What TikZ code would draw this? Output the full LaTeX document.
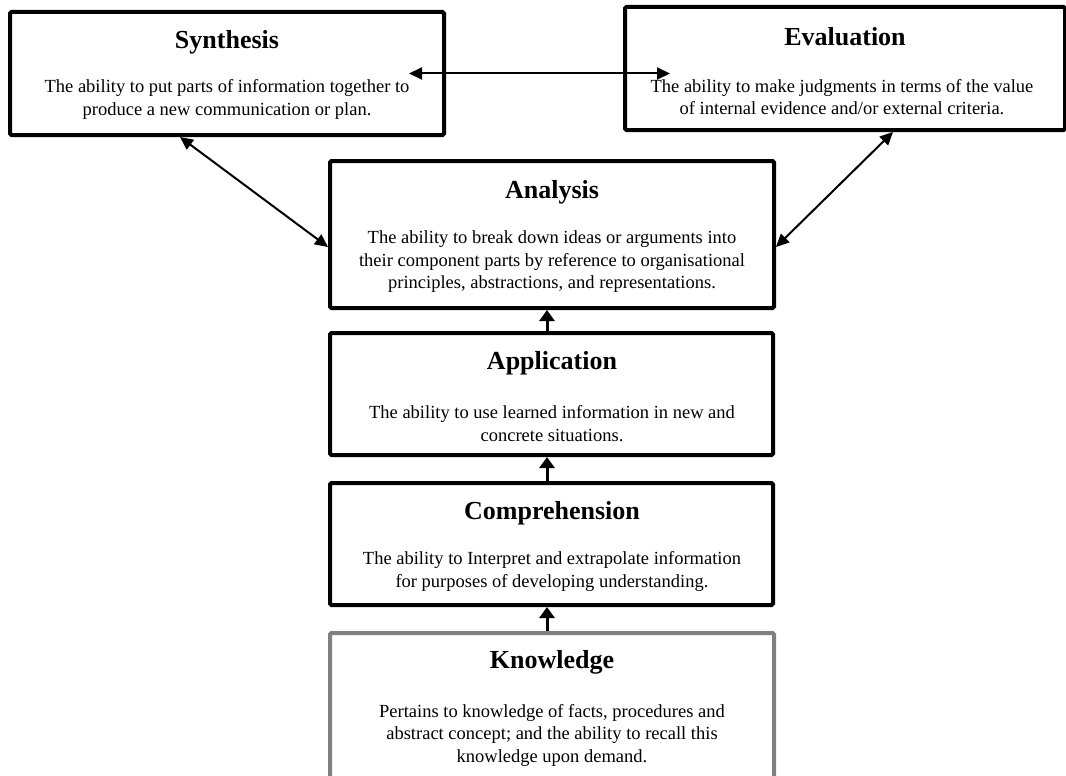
\documentclass[tikz,border=0pt]{standalone}
\usepackage{fontspec}
\setmainfont{Liberation Serif}
\usetikzlibrary{arrows.meta}
\begin{document}
\begin{tikzpicture}[x=1pt,y=-1pt,
  box/.style={draw=black,line width=4pt,rounded corners=1.5pt,inner sep=0pt},
  gbox/.style={box,draw={rgb,255:red,128;green,128;blue,128}},
  ttl/.style={font=\fontsize{26}{28}\selectfont\bfseries,inner sep=0pt},
  body/.style={font=\fontsize{18.5}{22.5}\selectfont,align=center,inner sep=0pt},
  dbl/.style={line width=2pt,{Triangle[length=13pt,width=12pt]}-{Triangle[length=13pt,width=12pt]}},
  upar/.style={line width=3pt,-{Triangle[length=11pt,width=15pt]}}]
\clip (0,0) rectangle (1066,776);
\useasboundingbox (0,0) rectangle (1066,776);

% boxes
\node[box,minimum width=434pt,minimum height=123pt] (syn) at (227,73.5) {};
\node[box,minimum width=440pt,minimum height=123pt] (eva) at (845,68.5) {};
\node[box,minimum width=444pt,minimum height=147pt] (ana) at (552,234.5) {};
\node[box,minimum width=443pt,minimum height=122pt] (app) at (551.5,394) {};
\node[box,minimum width=443pt,minimum height=122pt] (com) at (551.5,544) {};
\node[gbox,minimum width=444pt,minimum height=170pt] (kno) at (552,718) {};

% texts
\node[ttl] (synT) at (227,42) {Synthesis};
\node[body] (synB) at (227,99.5) {The ability to put parts of information together to\\produce a new communication or plan.};
\node[ttl] (evaT) at (845,37) {Evaluation};
\node[body] (evaB) at (842,97) {The ability to make judgments in terms of the value\\of internal evidence and/or external criteria.};
\node[ttl] (anaT) at (552,192) {Analysis};
\node[body] (anaB) at (552,262) {The ability to break down ideas or arguments into\\their component parts by reference to organisational\\principles, abstractions, and representations.};
\node[ttl] (appT) at (552,363) {Application};
\node[body] (appB) at (552,423.5) {The ability to use learned information in new and\\concrete situations.};
\node[ttl] (comT) at (552,513) {Comprehension};
\node[body] (comB) at (552,571.5) {The ability to Interpret and extrapolate information\\for purposes of developing understanding.};
\node[ttl] (knoT) at (552,662) {Knowledge};
\node[body] (knoB) at (552,735) {Pertains to knowledge of facts, procedures and\\abstract concept; and the ability to recall this\\knowledge upon demand.};

% connectors
\coordinate (hr) at (syn.east -| eva.west);
\draw[dbl] ([xshift=-37pt]syn.east) -- ([xshift=47pt]hr);
\draw[dbl] ([xshift=172pt]syn.south west) -- ([yshift=-12.5pt]ana.west);
\draw[dbl] ([xshift=270pt]eva.south west) -- ([yshift=-12.5pt]ana.east);
\draw[upar] ([xshift=-4.5pt]app.north) -- ([xshift=-5pt]ana.south);
\draw[upar] ([xshift=-4.5pt]com.north) -- ([xshift=-4.5pt]app.south);
\draw[upar] ([xshift=-5pt]kno.north) -- ([xshift=-4.5pt]com.south);
\end{tikzpicture}
\end{document}
